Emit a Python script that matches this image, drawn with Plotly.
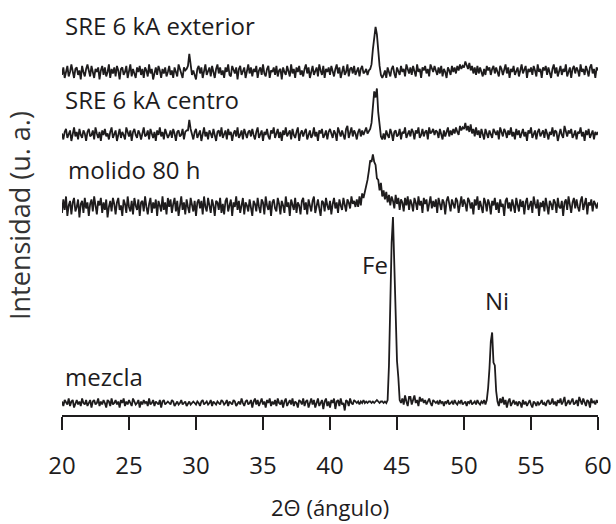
import plotly.graph_objects as go

# 2-theta sampling grid (0.1 degree step, 20..60)
two_theta = [round(20 + 0.1 * i, 1) for i in range(401)]
tick_vals = [20, 25, 30, 35, 40, 45, 50, 55, 60]
tick_text = ["20", "25", "30", "35", "40", "45", "50", "55", "60"]

# intensities (arbitrary units), one row = 2 degrees
sre_exterior = (
    [-2, 3, -4, 1, 4, -3, 0, 5, -1, -4, 2, 3, -2, 1, -5, 4, 0, -3, 2, 5] +
    [1, -3, 4, -1, -4, 2, 0, 3, -5, 1, 4, -2, 3, -3, 0, 5, -4, 2, -1, 3] +
    [-3, 4, 1, -5, 2, 3, -2, 0, 4, -4, 1, 5, -3, 2, -1, -4, 3, 0, 4, -2] +
    [2, -4, 3, 1, -3, 5, -1, 2, -5, 0, 3, -2, 4, 1, -4, 2, -1, 3, -3, 0] +
    [4, -2, 1, -4, 3, 0, -3, 5, 2, -1, -4, 3, 1, 2, 4, 12, 5, -2, 1, -3] +
    [-5, 2, 4, -1, 3, -4, 0, 5, -2, 1, 3, -3, 4, 0, -4, 2, 5, -1, 3, -2] +
    [1, -4, 3, 0, 5, -2, -3, 4, 1, -1, 3, -5, 2, 4, -2, 0, 3, -4, 1, 5] +
    [-1, 3, -3, 2, 0, 4, -4, 1, 3, -2, 5, -1, -3, 2, 4, -4, 1, 0, 3, -2] +
    [4, -3, 1, 2, -5, 3, 0, -2, 4, 1, -3, 5, -1, 2, -4, 3, 0, 4, -2, 1] +
    [-3, 2, 5, -1, 3, -4, 1, 4, -2, 0, 3, -3, 5, 1, -2, 4, -4, 2, 0, 3] +
    [-2, 4, 1, -3, 2, 5, -1, 3, -4, 1, 4, -2, 0, 5, -3, 2, 3, -1, 4, -2] +
    [1, 3, -3, 2, 4, -1, 0, 2, -2, 1, 2, 5, 15, 21, 30, 25, 13, 4, -2, -4] +
    [-2, 1, -4, 3, 0, -3, 2, 4, -1, -4, 3, 1, -2, 4, 0, 2, -3, 5, 1, -1] +
    [3, -2, 4, 1, -3, 5, 0, 2, -4, 3, 1, 4, -1, 2, -3, 5, 3, 0, 4, 1] +
    [-2, 3, -1, 4, -3, 2, 0, -4, 3, 1, -2, 4, 0, 3, -1, 4, 1, 5, 2, 4] +
    [3, 7, 4, 2, 6, 1, 4, -1, 3, -2, 4, -1, 3, 0, -3, 2, -2, 4, 1, 3] +
    [-2, 2, 4, -1, 3, 0, -3, 4, 2, -2, 1, 5, -1, 3, -4, 2, 0, 4, -2, 1] +
    [3, -3, 2, 5, -1, 1, 4, -4, 2, 0, 3, -2, 4, 1, -3, 5, 0, 2, -4, 3] +
    [1, 4, -2, 3, 0, -4, 2, 5, -1, 3, -3, 1, 4, -2, 2, 0, 5, -3, 1, 3] +
    [-4, 2, 4, -1, 3, 1, -3, 5, 0, 2, -2, 4, 1, -3, 3, 5, -1, 2, -4, 3] +
    [1]
)

sre_centro = (
    [1, -3, 2, 4, -2, 0, 3, -4, 1, 5, -1, 2, -3, 4, 0, -2, 3, 1, -4, 2] +
    [4, -1, 0, 3, -3, 5, 1, -2, 2, -4, 3, 0, 4, -1, 1, -3, 2, 5, -2, 0] +
    [3, -4, 1, 4, -2, 2, 0, -3, 5, 1, -1, 3, -4, 2, 4, 0, -2, 3, 1, -3] +
    [2, 5, -1, 0, 3, -3, 4, 1, -2, 2, -4, 3, 0, 5, -1, 2, -3, 4, 1, -2] +
    [0, 3, -2, 4, 1, -4, 2, 3, -1, 0, 4, -3, 2, 3, 3, 10, 4, 0, -3, 2] +
    [4, -2, 1, 3, -4, 0, 5, -1, 2, -3, 3, 1, -2, 4, 0, -4, 2, 3, -1, 5] +
    [-2, 1, 3, -3, 4, 0, 2, -4, 1, 3, -1, 5, -2, 0, 3, -3, 4, 1, -2, 2] +
    [3, -1, 4, 0, -3, 2, 5, -2, 1, 3, -4, 2, 0, 4, -1, -3, 3, 1, 5, -2] +
    [1, 4, -2, 2, -4, 3, 0, 5, -1, 1, 3, -3, 4, 0, -2, 2, 5, -4, 1, 3] +
    [-1, 2, 4, -3, 1, 3, -2, 0, 5, -1, 2, -4, 3, 1, 4, -2, 0, 3, -3, 2] +
    [4, 0, -2, 3, 1, -4, 5, 2, -1, 3, 0, -3, 4, 6, -2, 2, 5, -1, 3, 1] +
    [-3, 2, 4, -1, 3, 0, 2, 5, 1, 3, 4, 8, 19, 29, 25, 31, 15, 4, -1, -3] +
    [1, -3, 3, 0, -2, 4, 1, -4, 2, 3, -1, 0, 4, -3, 2, 1, 5, -2, 0, 3] +
    [-1, 4, 2, -3, 3, 1, 5, -2, 0, 4, -1, 2, 3, -3, 5, 1, 2, 4, 0, 3] +
    [2, -2, 4, 0, -3, 3, -1, 2, 5, -1, 3, 0, 4, 1, 5, 2, 0, 6, 3, 5] +
    [4, 8, 3, 6, 2, 7, 1, 4, -1, 5, 0, 3, -2, 4, 1, -3, 4, 0, -2, 3] +
    [1, -2, 4, 2, 0, 3, -3, 5, 1, -1, 4, 2, -2, 3, 0, 5, -1, 2, -3, 4] +
    [0, 3, -2, 1, 4, -1, 2, -4, 3, 1, 5, -2, 0, 3, -3, 2, 4, -1, 1, 3] +
    [-2, 4, 1, -3, 2, 0, 5, -1, 3, 2, -4, 1, 4, 0, -2, 6, 2, -1, 3, 1] +
    [4, -2, 0, 3, -3, 2, 1, 5, -1, 2, -4, 3, 0, 4, -2, 1, 3, -3, 2, 0] +
    [2]
)

molido_80h = (
    [-4, 5, -2, 7, -6, 1, 4, -5, 3, 6, -3, 0, 5, -7, 2, 4, -4, 6, -1, 3] +
    [-6, 2, 5, -3, 7, -1, -5, 4, 1, 6, -4, 3, -2, 5, -7, 0, 4, -3, 6, 2] +
    [-5, 3, 6, -2, 1, -6, 5, 2, -4, 7, 0, -3, 4, -5, 6, 1, -2, 5, -6, 3] +
    [4, -3, 7, 0, -5, 2, 6, -4, 3, -1, 5, -6, 4, 1, -3, 7, -2, 3, -5, 6] +
    [0, 5, -4, 2, 6, -3, 4, -6, 1, 7, -2, 3, -5, 5, 0, -4, 6, 2, -3, 4] +
    [-6, 3, 5, -1, 4, -5, 7, 0, -3, 6, 2, -4, 5, 1, -6, 4, 3, -2, 6, -4] +
    [2, -5, 4, 6, -3, 1, 5, -6, 3, 0, 7, -2, 4, -4, 2, 6, -5, 3, 1, -3] +
    [5, -1, -6, 4, 2, -3, 6, 0, -4, 5, 3, -5, 7, 1, -2, 4, -6, 3, 5, -1] +
    [-3, 6, 2, -5, 4, 1, -4, 7, 0, 3, -6, 5, 2, -2, 6, -4, 3, 1, -5, 4] +
    [6, -2, 3, -5, 5, 0, -3, 4, 7, -4, 2, 5, -1, -6, 4, 3, -3, 6, 1, -2] +
    [4, -5, 2, 6, -1, 3, -4, 5, 1, -2, 6, 2, -3, 5, 3, -1, 7, 2, 4, 0] +
    [5, 0, 7, 1, 9, 6, 10, 12, 18, 24, 31, 30, 35, 30, 28, 19, 18, 11, 16, 7] +
    [11, 5, 10, 3, 8, 1, 7, 4, -1, 8, 2, 6, -2, 5, 3, -3, 6, 1, 7, -2] +
    [5, 2, -3, 6, 3, -2, 7, 1, 4, -4, 6, 2, 5, -3, 3, 7, -1, 4, 0, 5] +
    [-4, 6, 2, -2, 5, 3, -5, 4, 7, 1, -3, 5, 2, -1, 6, 4, -4, 3, 7, 0] +
    [5, 2, -3, 6, 4, -1, 3, -5, 5, 1, 7, -2, 4, 0, -4, 6, 3, -3, 5, 2] +
    [-5, 4, 1, 6, -2, 3, -4, 5, 0, 2, -6, 4, 6, -1, 3, -3, 5, 1, -4, 6] +
    [2, -3, 5, 0, 4, -5, 3, 6, -2, 1, 4, -4, 7, 2, -1, 5, -6, 3, 0, 4] +
    [-3, 6, 1, -5, 4, 2, -2, 5, 3, -4, 6, 0, -1, 4, -6, 3, 5, -2, 7, 1] +
    [-4, 3, 6, -1, 5, 0, -3, 4, 7, -2, 2, 6, -5, 3, 1, 5, -3, 4, 2, -1] +
    [3]
)

mezcla = (
    [1, -2, 2, 0, -1, 3, -2, 1, 2, -3, 0, 2, -1, 1, -2, 3, 0, -1, 2, -2] +
    [0, 2, -3, 1, 2, -1, 0, 3, -2, 1, -1, 2, 0, -3, 2, 1, -2, 3, -1, 0] +
    [2, -1, 1, -3, 2, 0, 3, -2, 1, -1, 2, 0, -2, 3, 1, -1, 0, 2, -3, 1] +
    [-1, 2, 0, 1, -2, 3, -1, 0, 2, -2, 1, 0, -1, 2, -3, 1, 2, -1, 0, 1] +
    [0, -1, 2, 1, -2, 0, 1, -1, 0, 2, -1, 0, 1, -2, 0, 1, -1, 0, 1, 0] +
    [-1, 1, 0, -2, 1, 2, -1, 0, 1, -1, 0, 2, -2, 1, 0, -1, 1, 0, -1, 2] +
    [1, -1, 0, 2, -2, 1, 0, -1, 2, 1, -2, 0, 1, -1, 3, 0, -2, 1, 2, -1] +
    [0, 2, -3, 1, 3, -1, 2, -2, 0, 3, -1, 1, -3, 2, 0, 3, -2, 1, -1, 2] +
    [-2, 3, 0, -1, 2, -3, 1, 3, -2, 0, 2, -1, 3, -2, 1, 0, -3, 2, 1, -1] +
    [3, -2, 1, 2, -3, 0, 3, -1, 2, -3, 1, 3, -2, 0, 2, -4, 1, 3, -2, 1] +
    [-3, 2, 0, 3, -4, 1, 2, -2, 3, -1, 0, -5, 2, 1, -2, 3, 0, -1, 2, 1] +
    [0, 1, -1, 1, 0, 2, 0, 1, 0, 1, 1, 0, 1, 0, 1, 2, 1, 0, 1, 1] +
    [0, 1, 0, 2, 25, 67, 107, 124, 87, 57, 28, 17, 2, 0, 3, -1, 5, 1, -2, 4] +
    [4, -1, 3, 5, 0, 2, -2, 4, 1, 3, 0, 2, -1, 1, 3, 0, -2, 2, 1, 0] +
    [1, -1, 2, 0, 1, -2, 1, 0, 2, -1, 0, 1, -1, 2, 0, -1, 1, 0, 2, -1] +
    [0, 1, -2, 1, 0, 2, -1, 0, 1, -1, 2, 0, -1, 1, 0, 2, -1, 2, 10, 23] +
    [41, 47, 27, 25, 8, 1, -2, 3, 0, 4, -1, 2, -3, 1, 3, -2, 0, 2, -1, 1] +
    [-2, 1, 0, -3, 2, -1, 1, -2, 0, 2, -1, -3, 1, 0, -2, 1, -1, 0, 2, -1] +
    [0, -2, 1, 2, -1, 0, 3, -1, 1, -2, 2, 0, 3, -1, 1, 4, -2, 0, 2, -1] +
    [1, 3, -1, 0, 2, -2, 4, 1, -1, 3, 0, -2, 2, 1, -3, 3, 0, 1, -1, 2] +
    [0]
)

series_names = ["SRE 6 kA exterior", "SRE 6 kA centro", "molido 80 h", "mezcla"]
series_values = [sre_exterior, sre_centro, molido_80h, mezcla]
series_offsets = [228.7, 186.7, 138.7, 8]   # vertical stacking offsets

for v in series_values:
    assert len(v) == len(two_theta), len(v)

INK = "#1e1c1d"
FONT = "Open Sans"

fig = go.Figure()
for name, vals, off in zip(series_names, series_values, series_offsets):
    fig.add_trace(go.Scatter(
        x=two_theta, y=[v + off for v in vals], mode="lines", name=name,
        line=dict(color=INK, width=1.8), showlegend=False, hoverinfo="skip"))

label_pos = [(20.1, 260), (20.1, 210.5), (20.3, 164), (20.1, 25.5)]
for name, (lx, ly) in zip(series_names, label_pos):
    fig.add_annotation(x=lx, y=ly, text=name, showarrow=False,
                       xanchor="left", yanchor="middle",
                       font=dict(family=FONT, size=24, color=INK))

fig.add_annotation(x=43.36, y=100.5, text="Fe", showarrow=False,
                   xanchor="center", yanchor="middle",
                   font=dict(family=FONT, size=24, color=INK))
fig.add_annotation(x=52.46, y=76.5, text="Ni", showarrow=False,
                   xanchor="center", yanchor="middle",
                   font=dict(family=FONT, size=24, color=INK))

fig.add_annotation(xref="paper", yref="paper", x=-0.078, y=0.48,
                   text="Intensidad (u. a.)", textangle=-90, showarrow=False,
                   xanchor="center", yanchor="middle",
                   font=dict(family=FONT, size=27, color="#333333"))
fig.add_annotation(xref="paper", yref="paper", x=0.5, y=-0.222,
                   text="2Θ (ángulo)", showarrow=False,
                   xanchor="center", yanchor="middle",
                   font=dict(family=FONT, size=22, color=INK))

fig.update_layout(
    width=616, height=524,
    margin=dict(l=62, r=18, t=0, b=109),
    paper_bgcolor="white", plot_bgcolor="white",
    xaxis=dict(range=[20, 60], tickmode="array", tickvals=tick_vals, ticktext=tick_text,
               ticks="outside", ticklen=13, tickwidth=1.5, tickcolor=INK,
               showline=True, linewidth=1.5, linecolor=INK,
               showgrid=False, zeroline=False, ticklabelstandoff=15,
               tickfont=dict(family=FONT, size=24, color=INK)),
    yaxis=dict(range=[0, 276.67], showline=False, showticklabels=False, ticks="",
               showgrid=False, zeroline=False),
)

fig.write_html("out.html", config={"displayModeBar": False},
               post_script="document.body.style.margin='0';document.body.style.overflow='hidden';")
